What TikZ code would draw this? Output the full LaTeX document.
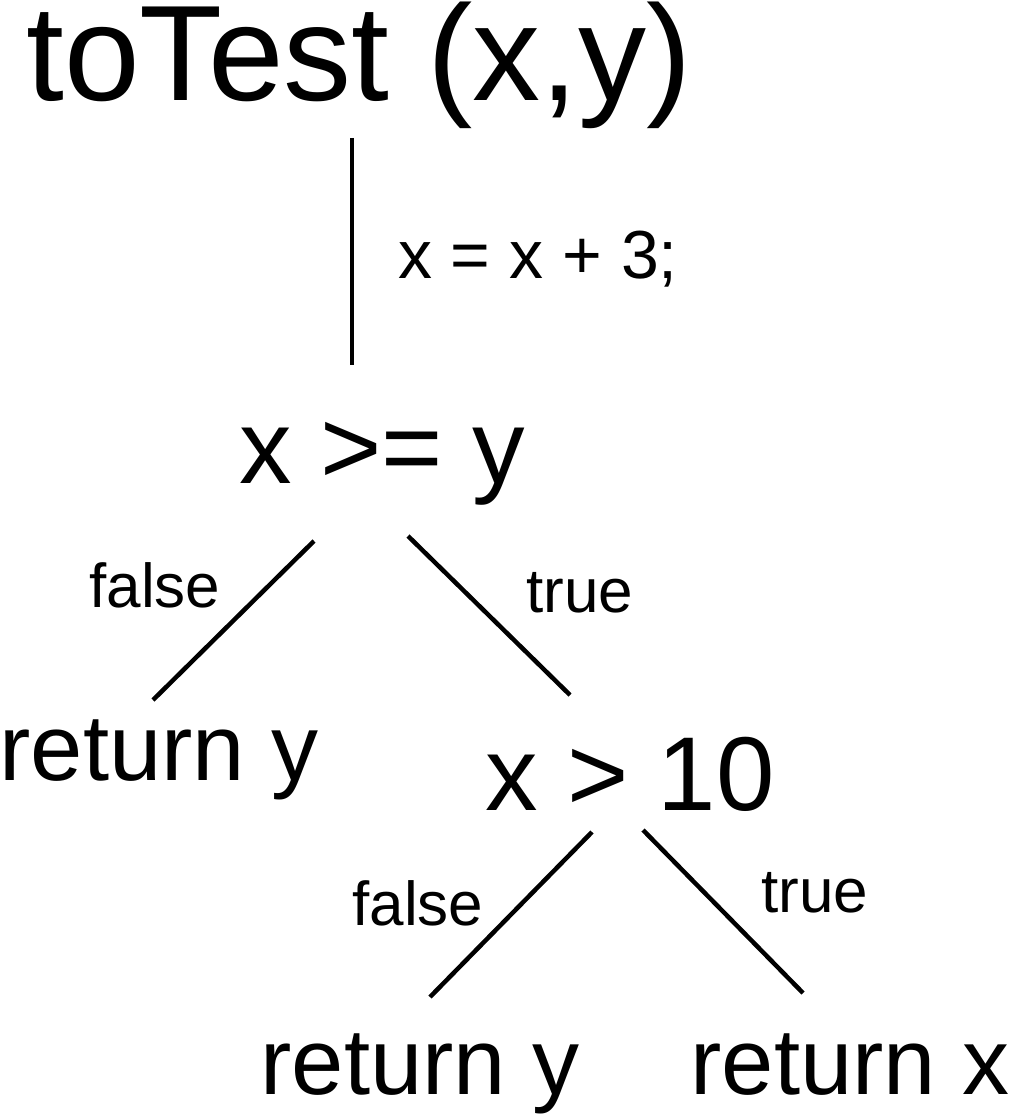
\documentclass[tikz,border=0pt]{standalone}
\usepackage{fontspec}
\setmainfont{Liberation Sans}
\begin{document}
\begin{tikzpicture}[x=1pt,y=-1pt,
  txt/.style={anchor=base,inner sep=0pt,outer sep=0pt},
  title/.style={txt,font=\fontsize{136}{136}\selectfont},
  big/.style={txt,font=\fontsize{105}{105}\selectfont},
  ret/.style={txt,font=\fontsize{94}{94}\selectfont},
  stmt/.style={txt,font=\fontsize{68}{68}\selectfont},
  lbl/.style={txt,font=\fontsize{62}{62}\selectfont},
  edge/.style={line width=4.5pt}]
\useasboundingbox (0,0) rectangle (1012,1115);
\node[title] (title) at (359,101) {toTest (x,y)};
\node[stmt] (stmt) at (538,278) {x = x + 3;};
\node[big] (c1) at (382,483) {x >= y};
\node[lbl] (f1) at (155,607) {false};
\node[lbl] (t1) at (580,612) {true};
\node[ret] (r1) at (159,780) {return y};
\node[big] (c2) at (630,810) {x > 10};
\node[lbl] (f2) at (418,925) {false};
\node[lbl] (t2) at (815,912) {true};
\node[ret] (r2) at (420,1094) {return y};
\node[ret] (r3) at (850,1094) {return x};
\coordinate (v0) at (352,138);
\coordinate (v1) at (352,365);
\coordinate (a0) at (314,541);
\coordinate (a1) at (153,700);
\coordinate (b0) at (408,536);
\coordinate (b1) at (570,695);
\coordinate (c0) at (592,832);
\coordinate (cc1) at (430,997);
\coordinate (d0) at (643,830);
\coordinate (d1) at (803,993);
\draw[edge] (v0) -- (v1);
\draw[edge] (a0) -- (a1);
\draw[edge] (b0) -- (b1);
\draw[edge] (c0) -- (cc1);
\draw[edge] (d0) -- (d1);
\end{tikzpicture}
\end{document}
